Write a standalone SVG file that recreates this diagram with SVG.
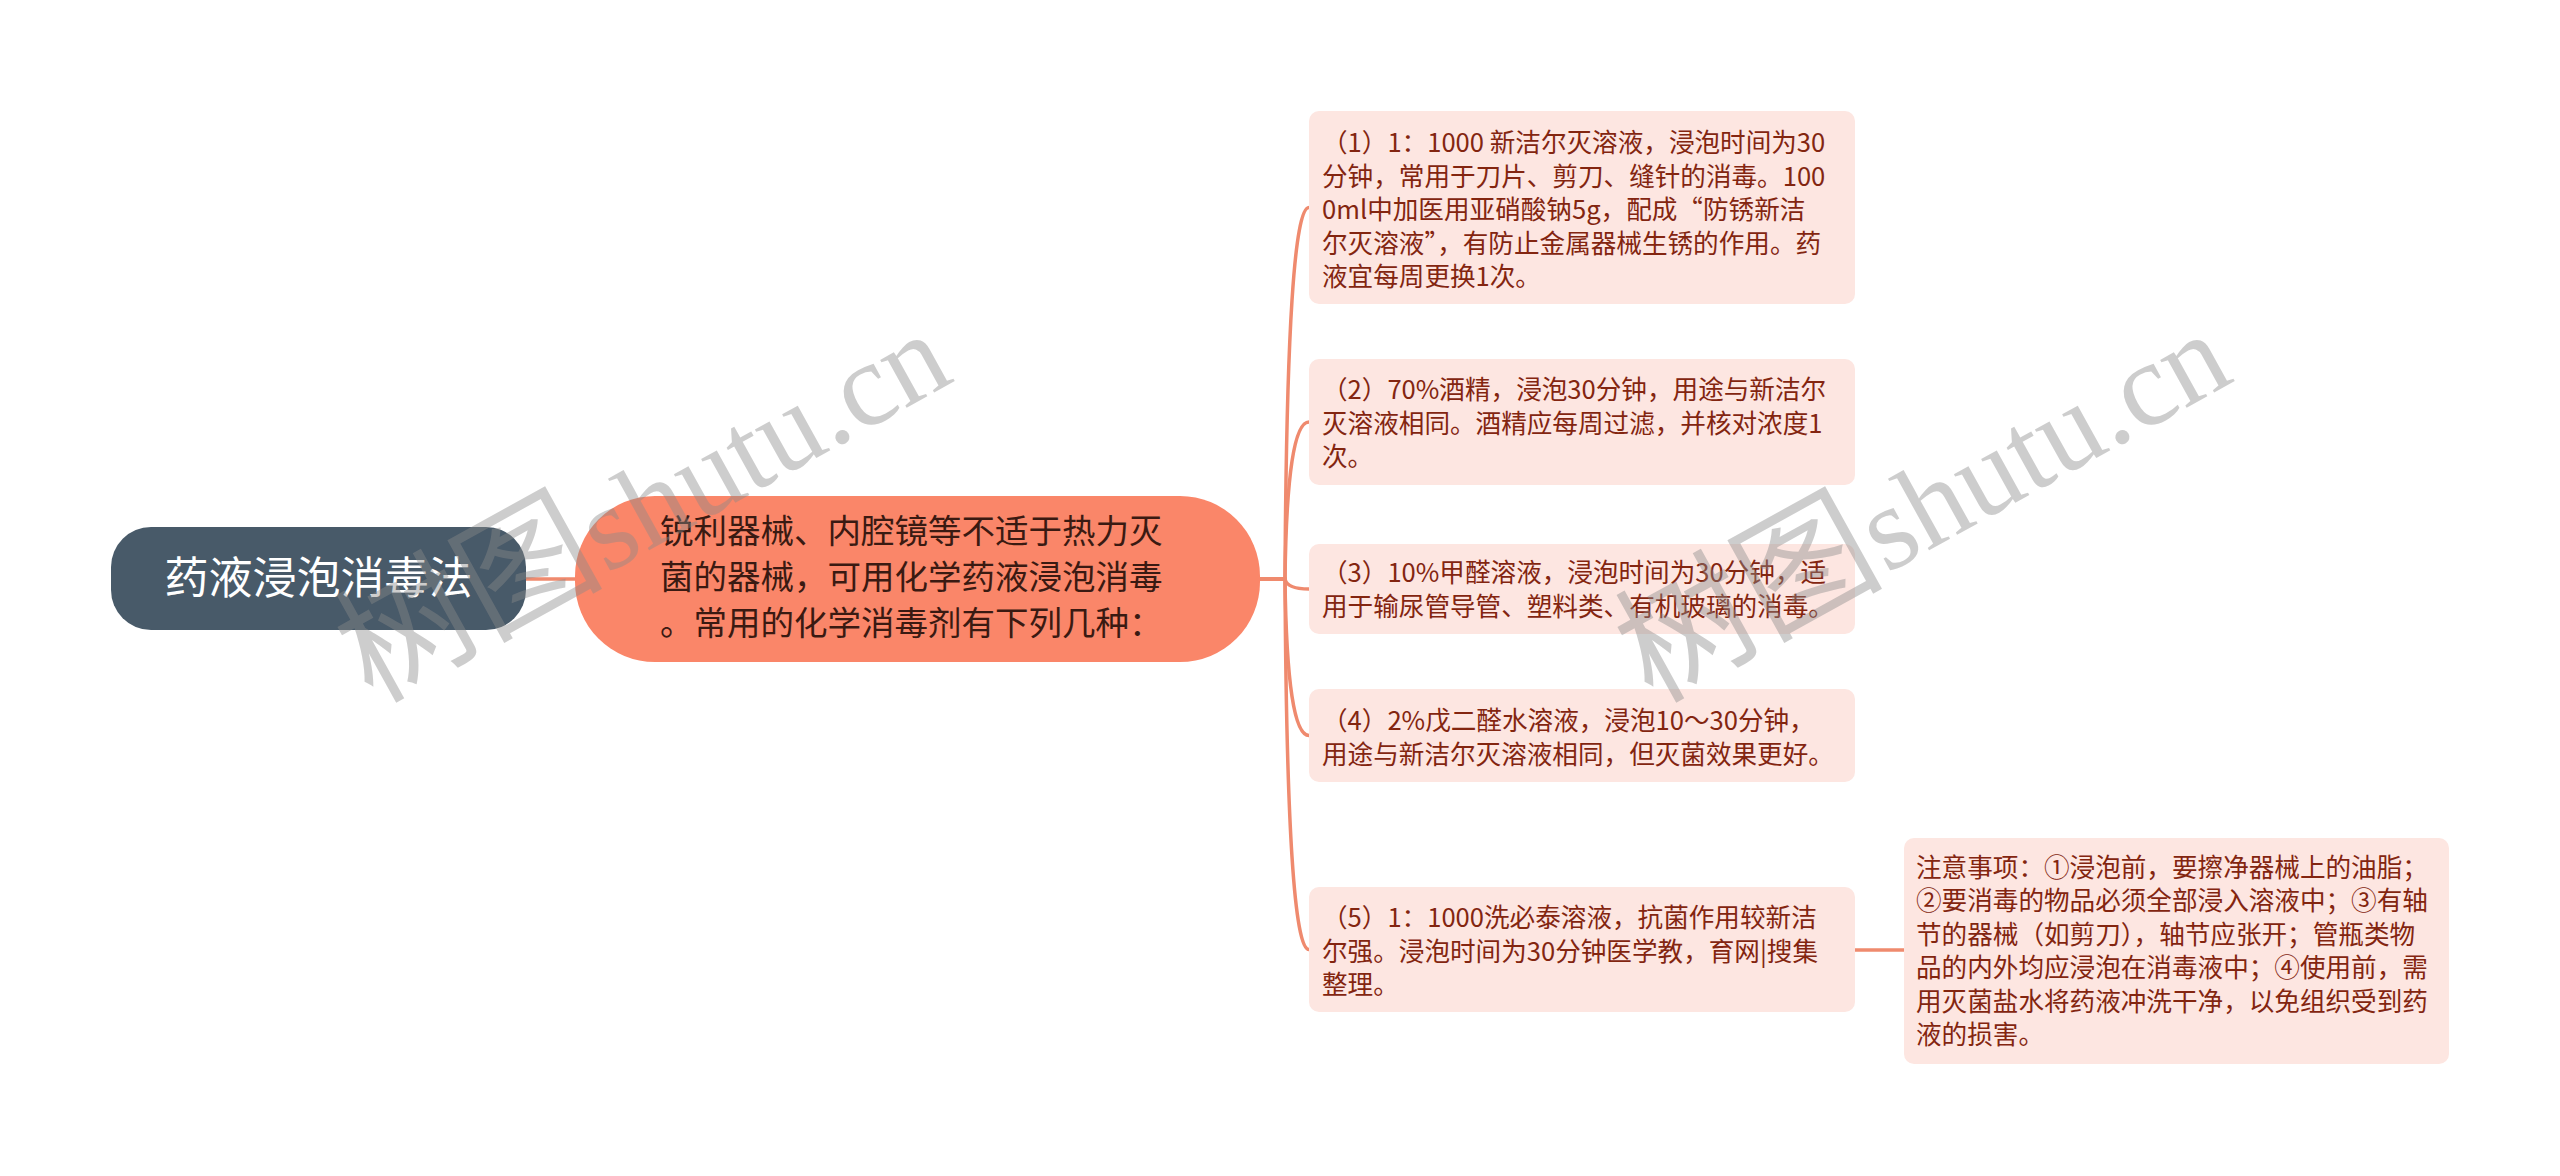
<svg xmlns="http://www.w3.org/2000/svg" width="2560" height="1176" viewBox="0 0 2560 1176">
<style>
  .bg { fill: #ffffff; }
  .conn { fill: none; stroke: #EF8A6E; stroke-width: 3.5; stroke-linecap: round; }
  .root-box { fill: #485A69; }
  .root-text { font-family: "Noto Sans CJK SC", "Noto Sans", sans-serif; font-size: 44px; fill: #ffffff; }
  .main-box { fill: #FA8669; }
  .main-text { font-family: "Noto Sans CJK SC", "Noto Sans", sans-serif; font-size: 33.5px; fill: #3A1A12; }
  .leaf-box { fill: #FDE6E1; }
  .leaf-text { font-family: "Noto Sans CJK SC", "Noto Sans", sans-serif; font-size: 25.6px; fill: #832510; }
  .wm { font-family: "Liberation Serif", "Noto Sans CJK SC", serif; font-size: 119px; fill: #8a8a8a; opacity: 0.42; }
  .wm-cjk { font-size: 134px; }
</style>
<rect class="bg" x="0" y="0" width="2560" height="1176"/>

<g id="connectors">
  <path class="conn" d="M 526 579 H 575"/>
  <path class="conn" d="M 1260 579 H 1285 Q 1287 207.5 1309 207.5"/>
  <path class="conn" d="M 1260 579 H 1285 Q 1287 422 1309 422"/>
  <path class="conn" d="M 1260 579 H 1285 Q 1287 589 1309 589"/>
  <path class="conn" d="M 1260 579 H 1285 Q 1287 735.5 1309 735.5"/>
  <path class="conn" d="M 1260 579 H 1285 Q 1287 949.5 1309 949.5"/>
  <path class="conn" d="M 1855 950 H 1904"/>
</g>

<g id="root">
  <rect class="root-box" x="111" y="527" width="415" height="103" rx="40"/>
  <text class="root-text" x="318.5" y="594" text-anchor="middle">药液浸泡消毒法</text>
</g>

<g id="main">
  <rect class="main-box" x="575" y="496" width="685" height="166" rx="80"/>
  <text class="main-text">
    <tspan x="660" y="543">锐利器械、内腔镜等不适于热力灭</tspan>
    <tspan x="660" y="589">菌的器械，可用化学药液浸泡消毒</tspan>
    <tspan x="660" y="635">。常用的化学消毒剂有下列几种：</tspan>
  </text>
</g>

<g id="item1">
  <rect class="leaf-box" x="1309" y="111" width="546" height="193" rx="10"/>
  <text class="leaf-text">
    <tspan x="1322" y="152">（1）1：1000 新洁尔灭溶液，浸泡时间为30</tspan>
    <tspan x="1322" y="186">分钟，常用于刀片、剪刀、缝针的消毒。100</tspan>
    <tspan x="1322" y="219">0ml中加医用亚硝酸钠5g，配成“防锈新洁</tspan>
    <tspan x="1322" y="253">尔灭溶液”，有防止金属器械生锈的作用。药</tspan>
    <tspan x="1322" y="286">液宜每周更换1次。</tspan>
  </text>
</g>

<g id="item2">
  <rect class="leaf-box" x="1309" y="359" width="546" height="126" rx="10"/>
  <text class="leaf-text">
    <tspan x="1322" y="399">（2）70%酒精，浸泡30分钟，用途与新洁尔</tspan>
    <tspan x="1322" y="433">灭溶液相同。酒精应每周过滤，并核对浓度1</tspan>
    <tspan x="1322" y="466">次。</tspan>
  </text>
</g>

<g id="item3">
  <rect class="leaf-box" x="1309" y="544" width="546" height="90" rx="10"/>
  <text class="leaf-text">
    <tspan x="1322" y="582">（3）10%甲醛溶液，浸泡时间为30分钟，适</tspan>
    <tspan x="1322" y="616">用于输尿管导管、塑料类、有机玻璃的消毒。</tspan>
  </text>
</g>

<g id="item4">
  <rect class="leaf-box" x="1309" y="689" width="546" height="93" rx="10"/>
  <text class="leaf-text">
    <tspan x="1322" y="730">（4）2%戊二醛水溶液，浸泡10～30分钟，</tspan>
    <tspan x="1322" y="764">用途与新洁尔灭溶液相同，但灭菌效果更好。</tspan>
  </text>
</g>

<g id="item5">
  <rect class="leaf-box" x="1309" y="887" width="546" height="125" rx="10"/>
  <text class="leaf-text">
    <tspan x="1322" y="927">（5）1：1000洗必泰溶液，抗菌作用较新洁</tspan>
    <tspan x="1322" y="961">尔强。浸泡时间为30分钟医学教，育网|搜集</tspan>
    <tspan x="1322" y="994">整理。</tspan>
  </text>
</g>

<g id="notes">
  <rect class="leaf-box" x="1904" y="838" width="545" height="226" rx="10"/>
  <text class="leaf-text">
    <tspan x="1916" y="877">注意事项：①浸泡前，要擦净器械上的油脂；</tspan>
    <tspan x="1916" y="910">②要消毒的物品必须全部浸入溶液中；③有轴</tspan>
    <tspan x="1916" y="944">节的器械（如剪刀），轴节应张开；管瓶类物</tspan>
    <tspan x="1916" y="977">品的内外均应浸泡在消毒液中；④使用前，需</tspan>
    <tspan x="1916" y="1011">用灭菌盐水将药液冲洗干净，以免组织受到药</tspan>
    <tspan x="1916" y="1044">液的损害。</tspan>
  </text>
</g>

<g id="watermark">
  <text class="wm" transform="translate(372 704) rotate(-29)"><tspan class="wm-cjk">树图</tspan>shutu.cn</text>
  <text class="wm" transform="translate(1652 704) rotate(-29)"><tspan class="wm-cjk">树图</tspan>shutu.cn</text>
</g>
</svg>
